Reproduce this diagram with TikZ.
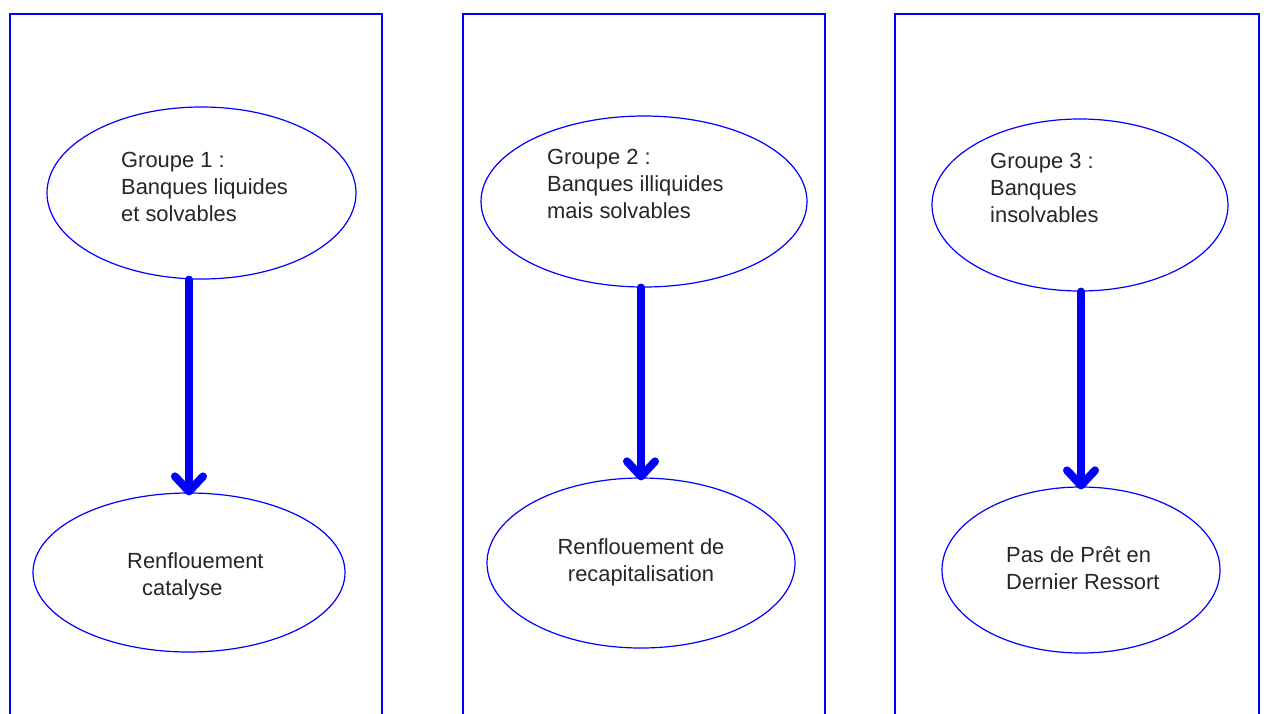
\documentclass[tikz,border=0pt]{standalone}
\usepackage{fontspec}
\setmainfont{Liberation Sans}
\usetikzlibrary{arrows.meta,shapes.geometric}
\definecolor{pblue}{RGB}{0,0,255}
\begin{document}
\begin{tikzpicture}[x=1pt,y=-1pt,
  panel/.style={draw=pblue, line width=1.5pt, rectangle, inner sep=0pt, anchor=north west, minimum height=730pt},
  ell/.style={draw=pblue, line width=1.2pt, ellipse, inner sep=0pt},
  lbl/.style={inner sep=0pt, font=\fontsize{21.9}{27}\selectfont, text=black!85},
  arr/.style={draw=pblue, line width=8pt, line cap=round, -{Straight Barb[length=15pt,width=28pt,round]}}]
\useasboundingbox (0,0) rectangle (1266,713);
\clip (0,0) rectangle (1266,713);
\fill[white] (0,0) rectangle (1266,713);
% panels
\node[panel, minimum width=372pt] (p1) at (9,13) {};
\node[panel, minimum width=362pt] (p2) at (462,13) {};
\node[panel, minimum width=364pt] (p3) at (894,13) {};
% ellipses
\node[ell, minimum width=309pt, minimum height=172pt] (e1a) at (201.5,193) {};
\node[ell, minimum width=312pt, minimum height=159pt] (e1b) at (189,572.5) {};
\node[ell, minimum width=326pt, minimum height=171pt] (e2a) at (644,201.5) {};
\node[ell, minimum width=308pt, minimum height=170pt] (e2b) at (641,563) {};
\node[ell, minimum width=296pt, minimum height=172pt] (e3a) at (1080,205) {};
\node[ell, minimum width=278pt, minimum height=166pt] (e3b) at (1081,570) {};
% labels
\node[lbl, anchor=north west, align=left] (t1a) at (121,152) {Groupe 1 :\\Banques liquides\\et solvables};
\node[lbl, anchor=north west, align=left] (t1b) at (127,552) {Renflouement\\\hspace*{15pt}catalyse};
\node[lbl, anchor=north west, align=left] (t2a) at (547,149) {Groupe 2 :\\Banques illiquides\\mais solvables};
\node[lbl, anchor=north, align=center] (t2b) at (641,538) {Renflouement de\\recapitalisation};
\node[lbl, anchor=north west, align=left] (t3a) at (990,153) {Groupe 3 :\\Banques\\insolvables};
\node[lbl, anchor=north west, align=left] (t3b) at (1006,546) {Pas de Prêt en\\Dernier Ressort};
% arrows
\draw[arr] (e1a.south -| e1b.north) -- ([yshift=-3pt]e1b.north);
\draw[arr] (e2a.south -| e2b.north) -- ([yshift=-3pt]e2b.north);
\draw[arr] (e3a.south -| e3b.north) -- ([yshift=-3pt]e3b.north);
\end{tikzpicture}
\end{document}
